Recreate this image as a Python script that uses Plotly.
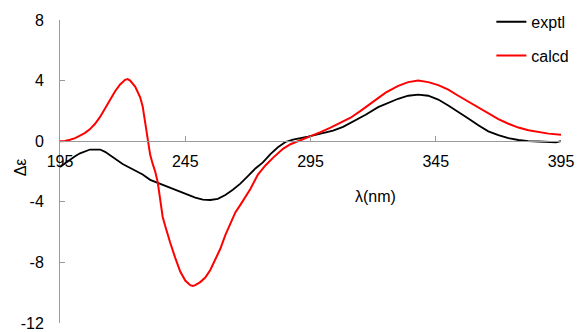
import plotly.graph_objects as go

# ---- data ----
exptl_nm = [195, 197, 199, 201, 203, 205, 207, 209, 211, 213, 216, 220, 224, 228, 231,
            234, 237, 240, 243, 246, 249, 252, 255, 258, 261, 264, 267, 270, 273, 276,
            279, 282, 285, 288, 291, 294, 297, 300, 304, 308, 312, 317, 322, 326, 330,
            334, 338, 342, 346, 350, 354, 358, 362, 366, 370, 374, 378, 382, 386, 390,
            393, 395]
exptl_de = [-1.7, -1.45, -1.2, -1.0, -0.8, -0.65, -0.55, -0.55, -0.55, -0.7, -1.05, -1.5,
            -1.85, -2.2, -2.55, -2.75, -2.95, -3.15, -3.35, -3.55, -3.72, -3.85, -3.88,
            -3.8, -3.55, -3.2, -2.8, -2.3, -1.8, -1.4, -0.85, -0.4, -0.05, 0.1, 0.18,
            0.3, 0.42, 0.55, 0.7, 0.95, 1.3, 1.75, 2.25, 2.55, 2.8, 3.0, 3.08, 3.0, 2.75,
            2.35, 1.95, 1.5, 1.05, 0.65, 0.4, 0.2, 0.08, 0.0, -0.02, -0.05, -0.07, 0.0]

calcd_nm = [195, 197, 199, 201, 203, 205, 207, 209, 211, 213, 215, 217, 219, 221, 222,
            223, 225, 226, 227, 228, 229, 230, 231, 232, 233, 234, 235, 236, 237, 238, 239,
            241, 243, 245, 247, 248, 249, 251, 253, 255, 257, 259, 261, 263, 265, 267,
            271, 274, 277, 280, 284, 287, 291, 295, 299, 303, 307, 311, 315, 320, 325,
            330, 334, 338, 342, 346, 350, 354, 358, 362, 366, 370, 374, 378, 382, 386,
            390, 395]
calcd_de = [0.0, 0.02, 0.1, 0.2, 0.37, 0.55, 0.8, 1.15, 1.6, 2.2, 2.8, 3.3, 3.75, 4.05,
            4.1, 4.0, 3.6, 3.3, 2.9, 2.3, 1.3, 0.1, -0.9, -1.5, -2.0, -2.7, -3.9, -5.0, -5.6,
            -6.2, -6.7, -7.7, -8.6, -9.2, -9.5, -9.55, -9.5, -9.3, -9.0, -8.5, -7.8, -7.1,
            -6.2, -5.4, -4.7, -4.2, -3.15, -2.2, -1.6, -1.1, -0.5, -0.2, 0.05, 0.3, 0.6,
            0.9, 1.2, 1.55, 2.0, 2.6, 3.2, 3.65, 3.9, 4.0, 3.9, 3.7, 3.4, 3.0, 2.6, 2.2,
            1.8, 1.45, 1.15, 0.9, 0.72, 0.6, 0.5, 0.43]

x_ticks = [195, 245, 295, 345, 395]
y_ticks = [-12, -8, -4, 0, 4, 8]

FONT = "Liberation Sans, Arial, sans-serif"
AXIS_COLOR = "#9a9a9a"

fig = go.Figure()
fig.add_trace(go.Scatter(x=exptl_nm, y=exptl_de, mode="lines", name="exptl",
                         line=dict(color="black", width=1.8), legendgroup="a"))
fig.add_trace(go.Scatter(x=calcd_nm, y=calcd_de, mode="lines", name="calcd",
                         line=dict(color="#ff0000", width=2), legendgroup="b"))

fig.update_layout(
    width=579, height=332,
    margin=dict(l=60, r=18, t=20, b=9, autoexpand=False),
    paper_bgcolor="white", plot_bgcolor="white",
    font=dict(family=FONT, size=16, color="black"),
    showlegend=True,
    legend=dict(x=0.861, y=1.05, xanchor="left", yanchor="top",
                bgcolor="rgba(0,0,0,0)", font=dict(size=16),
                tracegroupgap=10, traceorder="grouped"),
    xaxis=dict(range=[195, 395], tickvals=x_ticks, ticktext=[str(v) for v in x_ticks],
               showgrid=False, zeroline=False, showline=True, linecolor=AXIS_COLOR,
               linewidth=1, ticks="inside", ticklen=5, tickcolor=AXIS_COLOR,
               anchor="free", position=0.6, ticklabelstandoff=6, automargin=False),
    yaxis=dict(range=[-12, 8], tickvals=y_ticks, ticktext=[str(v) for v in y_ticks],
               showgrid=False, zeroline=False, showline=True, linecolor=AXIS_COLOR,
               linewidth=1, ticks="inside", ticklen=5, tickcolor=AXIS_COLOR,
               ticklabelstandoff=12, automargin=False),
    annotations=[
        dict(text="Δε", xref="paper", yref="paper", x=-0.098, y=0.515,
             showarrow=False, textangle=-90, font=dict(size=16)),
        dict(text="λ(nm)", xref="paper", yref="paper", x=0.629, y=0.416,
             showarrow=False, font=dict(size=16)),
    ],
)

fig.write_html("out.html", config={"displayModeBar": False},
               post_script="document.body.style.margin='0';document.body.style.overflow='hidden';")
